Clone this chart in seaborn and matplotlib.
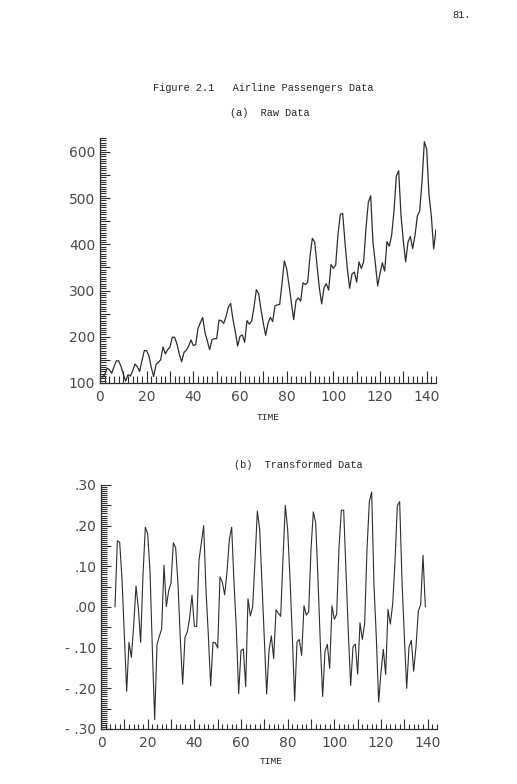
#!/usr/bin/env python3

import matplotlib

matplotlib.use("Agg")
import matplotlib.pyplot as plt
import matplotlib.ticker as mticker
import pandas as pd
import seaborn as sns

# Monthly airline passengers (thousands), months 1..144
months = list(range(1, 145))
passengers = [
    112, 118, 132, 129, 121, 135, 148, 148, 136, 119, 104, 118,
    115, 126, 141, 135, 125, 149, 170, 170, 158, 133, 114, 140,
    145, 150, 178, 163, 172, 178, 199, 199, 184, 162, 146, 166,
    171, 180, 193, 181, 183, 218, 230, 242, 209, 191, 172, 194,
    196, 196, 236, 235, 229, 243, 264, 272, 237, 211, 180, 201,
    204, 188, 235, 227, 234, 264, 302, 293, 259, 229, 203, 229,
    242, 233, 267, 269, 270, 315, 364, 347, 312, 274, 237, 278,
    284, 277, 317, 313, 318, 374, 413, 405, 355, 306, 271, 306,
    315, 301, 356, 348, 355, 422, 465, 467, 404, 347, 305, 336,
    340, 318, 362, 348, 363, 435, 491, 505, 404, 359, 310, 337,
    360, 342, 406, 396, 420, 472, 548, 559, 463, 407, 362, 405,
    417, 391, 419, 461, 472, 535, 622, 606, 508, 461, 390, 432,
]

# Transformed (detrended log) series, months 6..139
trans_months = list(range(6, 140))
transformed = [
    0.000,
    0.163, 0.159, 0.069, -0.070, -0.207, -0.087,
    -0.124, -0.047, 0.052, -0.002, -0.087, 0.079,
    0.196, 0.180, 0.089, -0.102, -0.277, -0.092,
    -0.072, -0.054, 0.103, 0.001, 0.040, 0.059,
    0.158, 0.145, 0.056, -0.080, -0.190, -0.074,
    -0.061, -0.026, 0.029, -0.047, -0.048, 0.115,
    0.158, 0.200, 0.041, -0.069, -0.194, -0.087,
    -0.088, -0.101, 0.074, 0.061, 0.030, 0.086,
    0.166, 0.196, 0.060, -0.054, -0.213, -0.107,
    -0.103, -0.196, 0.020, -0.022, 0.001, 0.113,
    0.236, 0.191, 0.055, -0.081, -0.214, -0.108,
    -0.071, -0.127, -0.007, -0.015, -0.023, 0.119,
    0.250, 0.190, 0.070, -0.073, -0.231, -0.086,
    -0.080, -0.119, 0.003, -0.020, -0.012, 0.142,
    0.234, 0.207, 0.068, -0.090, -0.220, -0.109,
    -0.092, -0.151, 0.003, -0.030, -0.018, 0.147,
    0.238, 0.238, 0.090, -0.063, -0.193, -0.098,
    -0.091, -0.165, -0.039, -0.080, -0.040, 0.141,
    0.259, 0.283, 0.052, -0.076, -0.234, -0.160,
    -0.104, -0.166, -0.006, -0.042, 0.007, 0.112,
    0.249, 0.259, 0.064, -0.072, -0.200, -0.099,
    -0.082, -0.158, -0.097, -0.010, 0.006, 0.127,
    0.000,
]

raw_yticks = [100, 200, 300, 400, 500, 600]
trans_yticks = [-0.30, -0.20, -0.10, 0.00, 0.10, 0.20, 0.30]
xticks = [0, 20, 40, 60, 80, 100, 120, 140]

ink = "#2e2e2e"
W, H = 517, 784

sns.set_theme(style="white")
plt.rcParams["font.family"] = ["DejaVu Sans"]

raw_df = pd.DataFrame({"time": months, "value": passengers})
trans_df = pd.DataFrame({"time": trans_months, "value": transformed})

fig = plt.figure(figsize=(W / 100, H / 100), dpi=100)
ax1 = fig.add_axes([100 / W, 1 - 383 / H, 336 / W, 245 / H])
ax2 = fig.add_axes([101 / W, 1 - 729 / H, 336 / W, 244 / H])

sns.lineplot(data=raw_df, x="time", y="value", ax=ax1, color=ink, linewidth=0.9)
sns.lineplot(data=trans_df, x="time", y="value", ax=ax2, color=ink, linewidth=0.8)


def fmt_raw(v, pos):
    iv = int(round(v))
    return str(iv) if iv in raw_yticks else ""


def fmt_trans(v, pos):
    r = round(v, 2)
    if abs(r * 10 - round(r * 10)) > 1e-6:
        return ""
    s = ("%.2f" % abs(r))[1:]
    return ("- " + s) if r < 0 else s


def fmt_x(v, pos):
    iv = int(round(v))
    return str(iv) if iv in xticks else ""


for ax, ylim, ymajor, yminor, yfmt, xlen in [
    (ax1, (100, 630), 50, 5, fmt_raw, (9, 5)),
    (ax2, (-0.30, 0.30), 0.05, 0.005, fmt_trans, (7, 3.5)),
]:
    ax.set_xlim(0, 144)
    ax.set_ylim(*ylim)
    ax.xaxis.set_major_locator(mticker.MultipleLocator(10))
    ax.xaxis.set_minor_locator(mticker.MultipleLocator(2))
    ax.xaxis.set_major_formatter(mticker.FuncFormatter(fmt_x))
    ax.yaxis.set_major_locator(mticker.MultipleLocator(ymajor))
    ax.yaxis.set_minor_locator(mticker.MultipleLocator(yminor))
    ax.yaxis.set_major_formatter(mticker.FuncFormatter(yfmt))
    ax.tick_params(axis="x", which="major", direction="in", length=xlen[0],
                   width=0.8, color=ink, pad=5, labelsize=10, labelcolor="#4a4a4a")
    ax.tick_params(axis="x", which="minor", direction="in", length=xlen[1],
                   width=0.8, color=ink)
    ax.tick_params(axis="y", which="major", direction="in", length=7,
                   width=0.8, color=ink, pad=3.5, labelsize=10, labelcolor="#4a4a4a")
    ax.tick_params(axis="y", which="minor", direction="in", length=4,
                   width=0.8, color=ink)
    ax.tick_params(top=False, right=False, left=True, bottom=True, which="both")
    for side in ["top", "right"]:
        ax.spines[side].set_visible(False)
    for side in ["left", "bottom"]:
        ax.spines[side].set_color(ink)
        ax.spines[side].set_linewidth(0.9)
    ax.set_xlabel("")
    ax.set_ylabel("")
    ax.set_facecolor("white")

mono = ["Liberation Mono", "DejaVu Sans Mono"]


def put(text, x, y, ha="left", size=7.4):
    fig.text(x / W, 1 - y / H, text, ha=ha, va="center", fontsize=size,
             family=mono, color="#262626")


put("81.", 452, 15)
put("Figure 2.1   Airline Passengers Data", 153, 88)
put("(a)  Raw Data", 230, 113)
put("TIME", 268, 417, ha="center", size=6.8)
put("(b)  Transformed Data", 234, 465)
put("TIME", 271, 762, ha="center", size=6.8)

fig.savefig("out.png", dpi=100, facecolor="white")
